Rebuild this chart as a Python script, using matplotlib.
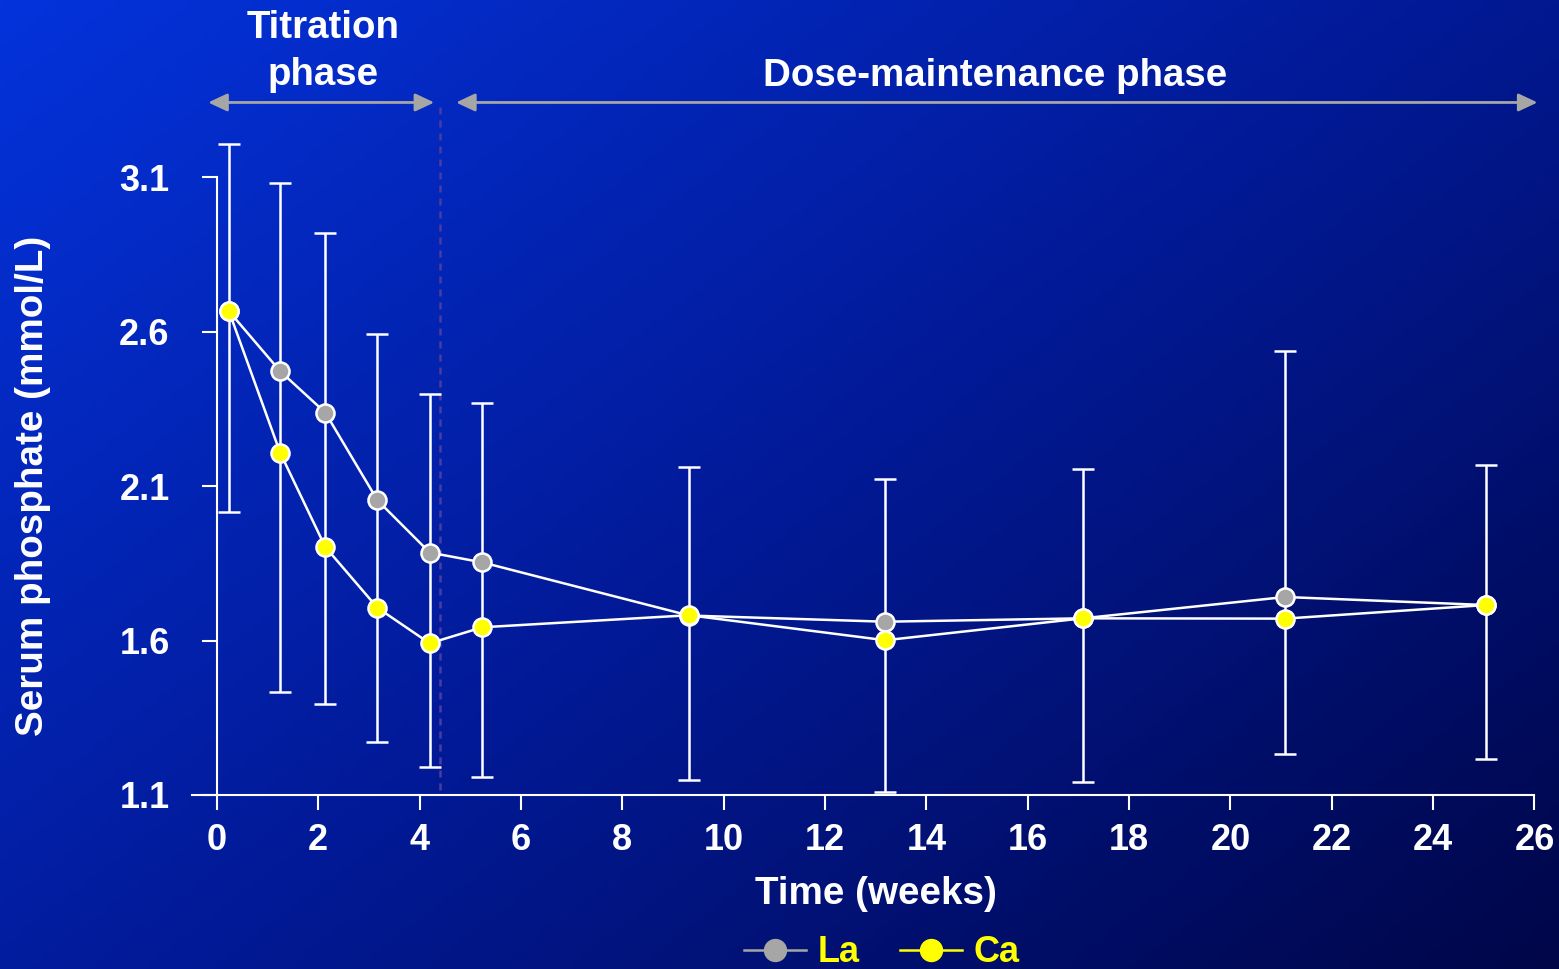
import numpy as np
import matplotlib
matplotlib.use("Agg")
import matplotlib.pyplot as plt
from matplotlib.lines import Line2D
from matplotlib.patches import FancyArrowPatch
import matplotlib.transforms as mtransforms

# ---------------- data ----------------
weeks = [0.24, 1.25, 2.14, 3.17, 4.20, 5.24, 9.32, 13.19, 17.09, 21.08, 25.04]
la_values = [2.666, 2.472, 2.338, 2.054, 1.885, 1.853, 1.681, 1.661, 1.672, 1.741, 1.715]
ca_values = [2.666, 2.208, 1.903, 1.706, 1.591, 1.643, 1.682, 1.601, 1.672, 1.671, 1.715]
err_top = [3.209, 3.081, 2.918, 2.591, 2.397, 2.368, 2.161, 2.124, 2.157, 2.539, 2.167]
err_bottom = [2.016, 1.432, 1.394, 1.271, 1.190, 1.159, 1.149, 1.111, 1.143, 1.233, 1.216]
x_ticks = [0, 2, 4, 6, 8, 10, 12, 14, 16, 18, 20, 22, 24, 26]
y_ticks = [1.1, 1.6, 2.1, 2.6, 3.1]
y_tick_labels = ["1.1", "1.6", "2.1", "2.6", "3.1"]
phase_split = 4.4
series_names = ["La", "Ca"]

FONT = ["Liberation Sans", "DejaVu Sans"]
plt.rcParams["font.family"] = FONT
plt.rcParams["font.weight"] = "bold"

W, H = 1559, 969
fig = plt.figure(figsize=(W / 100, H / 100), dpi=100)

# ---------------- background gradient ----------------
bg = fig.add_axes([0, 0, 1, 1], zorder=-10)
yy, xx = np.mgrid[0:1:200j, 0:1:320j]
t = np.clip(0.55 * xx + 0.45 * yy, 0, 1)
stops_t = [0.0, 0.5, 1.0]
stops_c = np.array([[0x04, 0x33, 0xdc], [0x02, 0x1a, 0x98], [0x00, 0x06, 0x48]]) / 255.0
img = np.zeros(t.shape + (3,))
for k in range(3):
    img[..., k] = np.interp(t, stops_t, stops_c[:, k])
bg.imshow(img, aspect="auto", extent=[0, 1, 0, 1], origin="upper")
bg.axis("off")

# ---------------- main axes ----------------
x_left, x_right = -0.49, 26.05
y_bot, y_top = 1.1, 3.35
ax = fig.add_axes([192 / W, (H - 795) / H, (1537 - 192) / W, (795 - 100) / H])
ax.set_facecolor("none")
ax.set_xlim(x_left, x_right)
ax.set_ylim(y_bot, y_top)

white = "#ffffff"
lw = 1.8

la = np.array(la_values)
ca = np.array(ca_values)
ax.errorbar(weeks, la, yerr=[la - np.array(err_bottom), np.array(err_top) - la],
            fmt="none", ecolor=white, elinewidth=lw, capsize=7.9, capthick=lw, zorder=2)

ax.plot(weeks, la, color=white, lw=lw, zorder=3)
ax.plot(weeks, ca, color=white, lw=lw, zorder=3)
ax.plot(weeks, la, ls="none", marker="o", ms=13, mfc="#a6a6a6", mec=white, mew=1.8, zorder=4)
ax.plot(weeks, ca, ls="none", marker="o", ms=13, mfc="#ffff00", mec=white, mew=1.8, zorder=5)

# phase separator
ax.vlines(phase_split, 1.116, 3.345, colors="#4b3ca0", lw=1.8, linestyles=(0, (2.8, 2.4)), zorder=1)

# phase arrows
arrow_y = 3.342
for a, b in [(-0.17, 4.29), (4.72, 26.06)]:
    arr = FancyArrowPatch((a, arrow_y), (b, arrow_y),
                          arrowstyle="<|-|>,head_length=11.5,head_width=5.4",
                          mutation_scale=1, shrinkA=0, shrinkB=0,
                          color="#a6a6a6", lw=2.0, clip_on=False, zorder=3)
    ax.add_patch(arr)

# phase labels
ax.text(2.1, 3.508, "Titration\nphase", ha="center", va="center", color=white,
        fontsize=27.7, fontweight="bold", linespacing=1.40, clip_on=False)
ax.text(15.36, 3.429, "Dose-maintenance phase", ha="center", va="center", color=white,
        fontsize=27.7, fontweight="bold", clip_on=False)

# spines / ticks
for s in ["top", "right"]:
    ax.spines[s].set_visible(False)
ax.spines["left"].set_position(("data", 0))
ax.spines["left"].set_bounds(1.1, 3.1)
ax.spines["bottom"].set_bounds(x_left, 26)
for s in ["left", "bottom"]:
    ax.spines[s].set_color(white)
    ax.spines[s].set_linewidth(1.5)

ax.set_xticks(x_ticks)
ax.set_xticklabels([str(v) for v in x_ticks])
ax.set_yticks(y_ticks)
ax.set_yticklabels(y_tick_labels)
ax.tick_params(axis="both", colors=white, width=1.5, length=11, direction="out",
               labelsize=26, labelcolor=white)
ax.tick_params(axis="y", pad=23)
ax.tick_params(axis="x", pad=9)
for lab in ax.get_xticklabels() + ax.get_yticklabels():
    lab.set_fontweight("bold")

# axis titles
blend_x = mtransforms.blended_transform_factory(ax.transData, fig.transFigure)
ax.text(13.0, (H - 894) / H, "Time (weeks)", transform=blend_x, ha="center", va="center",
        color=white, fontsize=27.8, fontweight="bold")
blend_y = mtransforms.blended_transform_factory(fig.transFigure, ax.transData)
ax.text(33 / W, 2.1, "Serum phosphate (mmol/L)", transform=blend_y, rotation=90,
        ha="center", va="center", color=white, fontsize=27.8, fontweight="bold")

# legend
handles = [Line2D([0], [0], color="#a6a6a6", lw=1.8, marker="o", ms=15.8, mfc="#a6a6a6", mec="#a6a6a6"),
           Line2D([0], [0], color="#ffff00", lw=1.8, marker="o", ms=15.8, mfc="#ffff00", mec="#ffff00")]
leg = fig.legend(handles, series_names, loc="center", bbox_to_anchor=(882 / W, (H - 953) / H),
                 ncol=2, frameon=False, handlelength=1.7, handletextpad=0.33, columnspacing=1.12,
                 prop={"family": FONT, "weight": "bold", "size": 26})
for txt in leg.get_texts():
    txt.set_color("#ffff00")

fig.savefig("out.png", dpi=100)
